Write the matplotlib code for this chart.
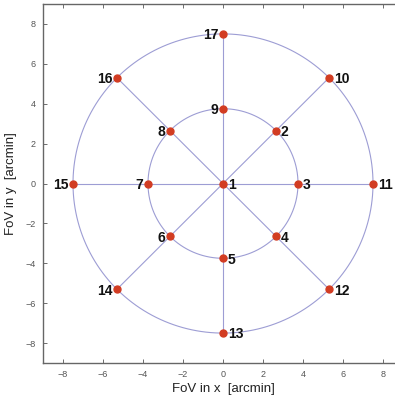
import matplotlib
matplotlib.use('Agg')
import matplotlib.pyplot as plt
import numpy as np

# FoV positions of the 17 pointings [arcmin]
ids = [1, 2, 3, 4, 5, 6, 7, 8, 9, 10, 11, 12, 13, 14, 15, 16, 17]
xs = [0.0, 2.65, 3.75, 2.65, 0.0, -2.65, -3.75, -2.65, 0.0,
      5.3, 7.5, 5.3, 0.0, -5.3, -7.5, -5.3, 0.0]
ys = [0.0, 2.65, 0.0, -2.65, -3.75, -2.65, 0.0, 2.65, 3.75,
      5.3, 0.0, -5.3, -7.5, -5.3, 0.0, 5.3, 7.5]
# which side the number sits on: 1 = right, -1 = left
sides = [1, 1, 1, 1, 1, -1, -1, -1, -1, 1, 1, 1, 1, -1, -1, -1, -1]
radii = [3.75, 7.5]
ticks = [-8, -6, -4, -2, 0, 2, 4, 6, 8]

plt.rcParams['font.family'] = ['Liberation Sans', 'DejaVu Sans']

fig = plt.figure(figsize=(3.95, 3.99), dpi=100)
# right spine lies outside the picture, as in the original
ax = fig.add_axes([43 / 395, 36 / 399, 360 / 395, 359 / 399])

line_col = '#9d9dd4'
t = np.linspace(0, 2 * np.pi, 400)
for r in radii:
    ax.plot(r * np.cos(t), r * np.sin(t), color=line_col, lw=0.8, zorder=1)
# spokes from centre to the outer ring points
for x, y in zip(xs[9:], ys[9:]):
    ax.plot([0, x], [0, y], color=line_col, lw=0.8, zorder=1)

ax.plot(xs, ys, 'o', color='#d23c22', ms=5, mec='#d23c22', zorder=3)
for i, x, y, s in zip(ids, xs, ys, sides):
    ax.annotate(str(i), (x, y), xytext=(3.5 * s, -1), textcoords='offset points',
                ha='left' if s > 0 else 'right', va='center',
                fontsize=10, fontweight='bold', color='#111111')

ax.set_xlim(-9, 9)
ax.set_ylim(-9, 9)
ax.set_xticks(ticks)
ax.set_yticks(ticks)
ax.tick_params(direction='in', length=3, width=0.6, labelsize=6.5, colors='#555555',
               top=True, right=True, pad=5)
for sp in ax.spines.values():
    sp.set_color('#666666')
    sp.set_linewidth(1.0)
ax.set_xlabel('FoV in x  [arcmin]', fontsize=9.5, color='#222222', labelpad=3)
ax.set_ylabel('FoV in y  [arcmin]', fontsize=9.5, color='#222222', labelpad=6)

fig.savefig('out.png', dpi=100)
